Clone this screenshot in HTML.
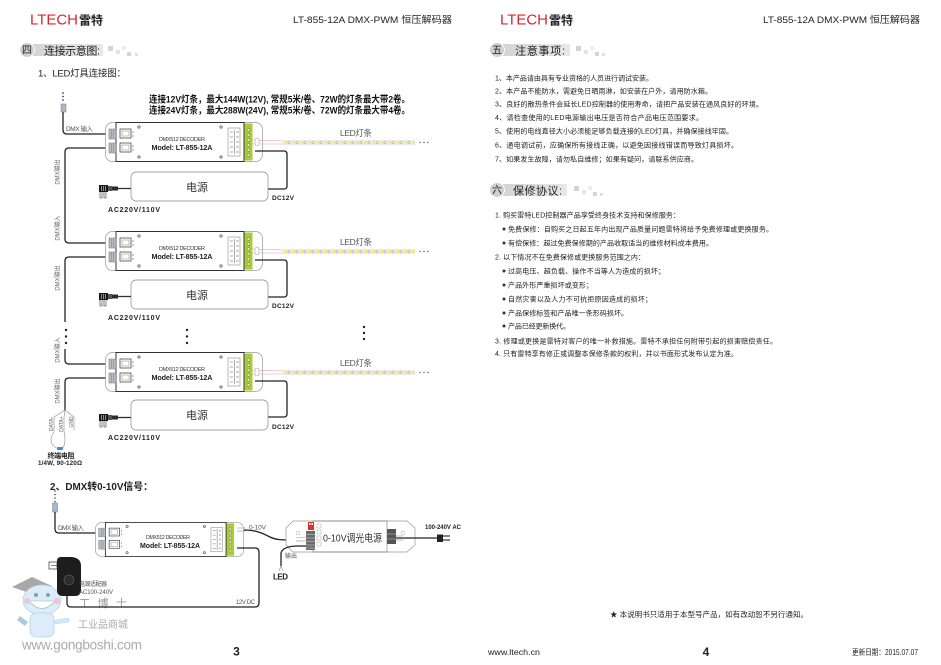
<!DOCTYPE html>
<html><head><meta charset="utf-8"><style>
html,body{margin:0;padding:0;background:#fff;}
svg{display:block;}
text{font-family:"Liberation Sans","Noto Sans CJK SC",sans-serif;}
</style></head><body>
<svg width="941" height="665" viewBox="0 0 941 665" xmlns="http://www.w3.org/2000/svg">
<defs>
<linearGradient id="bar" x1="0" x2="1" y1="0" y2="0"><stop offset="0" stop-color="#d2d2d2"/><stop offset="1" stop-color="#e8e8e8"/></linearGradient>
<pattern id="strip" x="0" y="0" width="8" height="5" patternUnits="userSpaceOnUse">
<rect x="0" y="0" width="8" height="5" fill="#eeeeee"/>
<rect x="1" y="1" width="3" height="3" fill="#f4e98a"/>
<rect x="5" y="1.3" width="2" height="2.4" fill="none" stroke="#999" stroke-width="0.4"/>
</pattern>
<g id="dec">
<rect x="0.5" y="0.5" width="157" height="39" rx="7" fill="#fff" stroke="#999" stroke-width="0.7"/>
<rect x="11" y="0.5" width="128" height="39" fill="#fff" stroke="#222" stroke-width="0.9"/>
<rect x="139.5" y="1.5" width="8" height="37" fill="#a9cb3c"/>
<g fill="#e4eec0" stroke="#4a5a20" stroke-width="0.4">
<circle cx="143.5" cy="8" r="1.5"/><circle cx="143.5" cy="13" r="1.5"/><circle cx="143.5" cy="18" r="1.5"/><circle cx="143.5" cy="23" r="1.5"/><circle cx="143.5" cy="28" r="1.5"/><circle cx="143.5" cy="33" r="1.5"/>
</g>
<rect x="4" y="7" width="7" height="10" fill="#b8bcc4" stroke="#6a6f78" stroke-width="0.5"/>
<rect x="4" y="21" width="7" height="10" fill="#b8bcc4" stroke="#6a6f78" stroke-width="0.5"/>
<g stroke="#7d828a" stroke-width="0.5"><line x1="6.5" y1="8" x2="6.5" y2="16"/><line x1="8.5" y1="8" x2="8.5" y2="16"/><line x1="6.5" y1="22" x2="6.5" y2="30"/><line x1="8.5" y1="22" x2="8.5" y2="30"/></g>
<rect x="15" y="7" width="11" height="9" fill="#fff" stroke="#333" stroke-width="0.7"/>
<rect x="17" y="9" width="7" height="5" fill="none" stroke="#666" stroke-width="0.4"/>
<rect x="15" y="21" width="11" height="9" fill="#fff" stroke="#333" stroke-width="0.7"/>
<rect x="17" y="23" width="7" height="5" fill="none" stroke="#666" stroke-width="0.4"/>
<g stroke="#444" stroke-width="0.5"><line x1="28" y1="9" x2="28" y2="11"/><line x1="28" y1="13" x2="28" y2="15"/><line x1="28" y1="23" x2="28" y2="25"/><line x1="28" y1="27" x2="28" y2="29"/></g>
<g fill="none" stroke="#333" stroke-width="0.6"><circle cx="34" cy="5" r="1.2"/><circle cx="116" cy="5" r="1.2"/><circle cx="34" cy="35" r="1.2"/><circle cx="116" cy="35" r="1.2"/></g>
<rect x="123" y="6" width="12" height="28" fill="#fff" stroke="#777" stroke-width="0.5"/>
<g stroke="#555" stroke-width="0.5"><line x1="125" y1="10" x2="128" y2="10"/><line x1="125" y1="15" x2="128" y2="15"/><line x1="125" y1="20" x2="128" y2="20"/><line x1="125" y1="25" x2="128" y2="25"/><line x1="125" y1="30" x2="128" y2="30"/><line x1="129.5" y1="8" x2="129.5" y2="32"/></g>
<g fill="none" stroke="#777" stroke-width="0.4"><circle cx="132.5" cy="10" r="0.9"/><circle cx="132.5" cy="15" r="0.9"/><circle cx="132.5" cy="20" r="0.9"/><circle cx="132.5" cy="25" r="0.9"/><circle cx="132.5" cy="30" r="0.9"/></g>
</g>
</defs>

<!-- ================= LEFT PAGE ================= -->
<text x="30" y="24.5" font-size="15" fill="#d9262d" textLength="48" lengthAdjust="spacingAndGlyphs">LTECH</text>
<text x="79" y="24.5" font-size="12" font-weight="bold" fill="#222" textLength="24">雷特</text>
<text x="293" y="23" font-size="9.5" fill="#222" textLength="159" lengthAdjust="spacingAndGlyphs">LT-855-12A DMX-PWM 恒压解码器</text>

<rect x="27" y="44" width="76" height="12" fill="url(#bar)"/>
<circle cx="27" cy="50" r="7.5" fill="#cfcfcf" stroke="#fff" stroke-width="1"/>
<text x="27" y="53.5" font-size="10" text-anchor="middle" fill="#222">四</text>
<text x="44" y="54.5" font-size="11" fill="#222" textLength="56">连接示意图:</text>
<g fill="#d4d4d4"><rect x="108" y="46" width="5" height="5"/><rect x="116" y="50" width="4" height="4" fill="#e2e2e2"/><rect x="122" y="46" width="4" height="4" fill="#ececec"/><rect x="127" y="52" width="4" height="4"/><rect x="135" y="53" width="3" height="3" fill="#e0e0e0"/></g>

<text x="38" y="76.5" font-size="9.5" fill="#222" textLength="88">1、LED灯具连接图：</text>
<text x="149" y="102.5" font-size="9.5" font-weight="bold" fill="#111" textLength="261" lengthAdjust="spacingAndGlyphs">连接12V灯条，最大144W(12V), 常规5米/卷、72W的灯条最大带2卷。</text>
<text x="149" y="113.5" font-size="9.5" font-weight="bold" fill="#111" textLength="261" lengthAdjust="spacingAndGlyphs">连接24V灯条，最大288W(24V), 常规5米/卷、72W的灯条最大带4卷。</text>

<!-- DMX input plug top -->
<g fill="#444"><circle cx="63" cy="93" r="0.9"/><circle cx="63" cy="96.5" r="0.9"/><circle cx="63" cy="100" r="0.9"/></g>
<rect x="61" y="104" width="5" height="8" fill="#a9b8c6" stroke="#6f7f8f" stroke-width="0.5"/>
<text x="66" y="131" font-size="6.5" fill="#555" textLength="27">DMX 输入</text>

<!-- DMX lines -->
<g fill="none" stroke="#222" stroke-width="1.3">
<path d="M63,112 V130 Q63,134 67,134 H110"/>
<path d="M110,148 H69 Q65,148 65,152 V239 Q65,243 69,243 H110"/>
<path d="M110,257 H69 Q65,257 65,261 V322"/>
<path d="M65,349 V360 Q65,364 69,364 H110"/>
<path d="M110,378 H69 Q65,378 65,382 V410"/>
</g>
<g font-size="6" fill="#666">
<text transform="translate(59.5,172) rotate(-90)" text-anchor="middle">DMX输出</text>
<text transform="translate(59.5,228) rotate(-90)" text-anchor="middle">DMX输入</text>
<text transform="translate(59.5,278) rotate(-90)" text-anchor="middle">DMX输出</text>
<text transform="translate(59.5,350) rotate(-90)" text-anchor="middle">DMX输入</text>
<text transform="translate(59.5,391) rotate(-90)" text-anchor="middle">DMX输出</text>
</g>
<g fill="#222">
<circle cx="66" cy="330" r="1.2"/><circle cx="66" cy="336.5" r="1.2"/><circle cx="66" cy="343" r="1.2"/>
<circle cx="187" cy="330" r="1.2"/><circle cx="187" cy="336.5" r="1.2"/><circle cx="187" cy="343" r="1.2"/>
<circle cx="364" cy="327" r="1.2"/><circle cx="364" cy="333" r="1.2"/><circle cx="364" cy="339" r="1.2"/>
</g>

<!-- ROW 1 -->
<use href="#dec" x="105" y="122"/>
<text x="182" y="141" font-size="5.5" fill="#333" text-anchor="middle" textLength="46">DMX512 DECODER</text>
<text x="182" y="150" font-size="7.2" font-weight="bold" fill="#222" text-anchor="middle" textLength="61">Model: LT-855-12A</text>
<g stroke="#e99" stroke-width="0.6"><line x1="252" y1="140" x2="283" y2="141"/><line x1="252" y1="144" x2="283" y2="144"/></g>
<rect x="255" y="138" width="4" height="8" rx="2" fill="#fff" stroke="#999" stroke-width="0.5"/>
<g transform="translate(283,140)"><rect width="132" height="5" fill="url(#strip)" stroke="#ddd" stroke-width="0.3"/></g>
<g fill="#555"><circle cx="420" cy="142.5" r="0.7"/><circle cx="424" cy="142.5" r="0.7"/><circle cx="428" cy="142.5" r="0.7"/></g>
<text x="340" y="136" font-size="8.5" fill="#555" textLength="32">LED灯条</text>
<path d="M255,151 H284 Q287,151 287,154 V186 Q287,189 284,189 H268" fill="none" stroke="#222" stroke-width="1.3"/>
<rect x="131" y="172" width="137" height="29" rx="5" fill="#fff" stroke="#888" stroke-width="0.7"/>
<text x="197" y="191" font-size="11" fill="#333" text-anchor="middle">电源</text>
<g>
<line x1="118" y1="188.5" x2="131" y2="188.5" stroke="#333" stroke-width="1.3"/>
<rect x="99" y="185" width="9" height="7" fill="#1a1a1a"/>
<g stroke="#fff" stroke-width="0.5"><line x1="101.5" y1="186" x2="101.5" y2="191"/><line x1="103.5" y1="186" x2="103.5" y2="191"/><line x1="105.5" y1="186" x2="105.5" y2="191"/></g>
<rect x="108" y="186" width="4" height="5" fill="#555"/>
<rect x="112" y="186.5" width="6" height="4" fill="#2a2a2a"/>
<path d="M100,192 v6 h2 v-6 M104,192 v6 h2 v-6" fill="none" stroke="#333" stroke-width="0.6"/>
</g>
<text x="108" y="212" font-size="7" font-weight="bold" fill="#222" textLength="52">AC220V/110V</text>
<text x="272" y="200" font-size="6.5" font-weight="bold" fill="#222" textLength="22">DC12V</text>

<!-- ROW 2 -->
<use href="#dec" x="105" y="231"/>
<text x="182" y="250" font-size="5.5" fill="#333" text-anchor="middle" textLength="46">DMX512 DECODER</text>
<text x="182" y="259" font-size="7.2" font-weight="bold" fill="#222" text-anchor="middle" textLength="61">Model: LT-855-12A</text>
<g stroke="#e99" stroke-width="0.6"><line x1="252" y1="249" x2="283" y2="250"/><line x1="252" y1="253" x2="283" y2="253"/></g>
<rect x="255" y="247" width="4" height="8" rx="2" fill="#fff" stroke="#999" stroke-width="0.5"/>
<g transform="translate(283,249)"><rect width="132" height="5" fill="url(#strip)" stroke="#ddd" stroke-width="0.3"/></g>
<g fill="#555"><circle cx="420" cy="251.5" r="0.7"/><circle cx="424" cy="251.5" r="0.7"/><circle cx="428" cy="251.5" r="0.7"/></g>
<text x="340" y="245" font-size="8.5" fill="#555" textLength="32">LED灯条</text>
<path d="M255,260 H284 Q287,260 287,263 V294 Q287,297 284,297 H268" fill="none" stroke="#222" stroke-width="1.3"/>
<rect x="131" y="280" width="137" height="29" rx="5" fill="#fff" stroke="#888" stroke-width="0.7"/>
<text x="197" y="299" font-size="11" fill="#333" text-anchor="middle">电源</text>
<g>
<line x1="118" y1="296.5" x2="131" y2="296.5" stroke="#333" stroke-width="1.3"/>
<rect x="99" y="293" width="9" height="7" fill="#1a1a1a"/>
<g stroke="#fff" stroke-width="0.5"><line x1="101.5" y1="294" x2="101.5" y2="299"/><line x1="103.5" y1="294" x2="103.5" y2="299"/><line x1="105.5" y1="294" x2="105.5" y2="299"/></g>
<rect x="108" y="294" width="4" height="5" fill="#555"/>
<rect x="112" y="294.5" width="6" height="4" fill="#2a2a2a"/>
<path d="M100,300 v6 h2 v-6 M104,300 v6 h2 v-6" fill="none" stroke="#333" stroke-width="0.6"/>
</g>
<text x="108" y="320" font-size="7" font-weight="bold" fill="#222" textLength="52">AC220V/110V</text>
<text x="272" y="308" font-size="6.5" font-weight="bold" fill="#222" textLength="22">DC12V</text>

<!-- ROW 3 -->
<use href="#dec" x="105" y="352"/>
<text x="182" y="371" font-size="5.5" fill="#333" text-anchor="middle" textLength="46">DMX512 DECODER</text>
<text x="182" y="380" font-size="7.2" font-weight="bold" fill="#222" text-anchor="middle" textLength="61">Model: LT-855-12A</text>
<g stroke="#e99" stroke-width="0.6"><line x1="252" y1="370" x2="283" y2="371"/><line x1="252" y1="374" x2="283" y2="374"/></g>
<rect x="255" y="368" width="4" height="8" rx="2" fill="#fff" stroke="#999" stroke-width="0.5"/>
<g transform="translate(283,370)"><rect width="132" height="5" fill="url(#strip)" stroke="#ddd" stroke-width="0.3"/></g>
<g fill="#555"><circle cx="420" cy="372.5" r="0.7"/><circle cx="424" cy="372.5" r="0.7"/><circle cx="428" cy="372.5" r="0.7"/></g>
<text x="340" y="366" font-size="8.5" fill="#555" textLength="32">LED灯条</text>
<path d="M255,381 H284 Q287,381 287,384 V414 Q287,417 284,417 H268" fill="none" stroke="#222" stroke-width="1.3"/>
<rect x="131" y="400" width="137" height="30" rx="5" fill="#fff" stroke="#888" stroke-width="0.7"/>
<text x="197" y="419" font-size="11" fill="#333" text-anchor="middle">电源</text>
<g>
<line x1="118" y1="417.5" x2="131" y2="417.5" stroke="#333" stroke-width="1.3"/>
<rect x="99" y="414" width="9" height="7" fill="#1a1a1a"/>
<g stroke="#fff" stroke-width="0.5"><line x1="101.5" y1="415" x2="101.5" y2="420"/><line x1="103.5" y1="415" x2="103.5" y2="420"/><line x1="105.5" y1="415" x2="105.5" y2="420"/></g>
<rect x="108" y="415" width="4" height="5" fill="#555"/>
<rect x="112" y="415.5" width="6" height="4" fill="#2a2a2a"/>
<path d="M100,421 v6 h2 v-6 M104,421 v6 h2 v-6" fill="none" stroke="#333" stroke-width="0.6"/>
</g>
<text x="108" y="440" font-size="7" font-weight="bold" fill="#222" textLength="52">AC220V/110V</text>
<text x="272" y="429" font-size="6.5" font-weight="bold" fill="#222" textLength="22">DC12V</text>

<!-- terminal resistor -->
<g fill="none" stroke="#888" stroke-width="0.6">
<path d="M65,410 L54,417 V432 C48,440 52,447 58,448.5"/>
<path d="M65,410 L64,417 V432 C66,440 65,446 62,448.5"/>
<path d="M65,410 L74,417 V430"/>
</g>
<g font-size="5" fill="#666">
<text transform="translate(53,424) rotate(-90)" text-anchor="middle">DATA-</text>
<text transform="translate(63,424) rotate(-90)" text-anchor="middle">DATA+</text>
<text transform="translate(73,422) rotate(-90)" text-anchor="middle">GND</text>
</g>
<rect x="57" y="447" width="6" height="3" rx="1" fill="#3a8fd8"/>
<text x="61" y="458" font-size="7" font-weight="bold" fill="#222" text-anchor="middle" textLength="27">终端电阻</text>
<text x="38" y="465" font-size="6.3" font-weight="bold" fill="#222" textLength="44">1/4W, 90-120Ω</text>

<!-- SECTION 2 -->
<text x="50" y="490" font-size="10" font-weight="bold" fill="#222" textLength="103" lengthAdjust="spacingAndGlyphs">2、DMX转0-10V信号：</text>
<g fill="#444"><circle cx="55" cy="491" r="0.8"/><circle cx="55" cy="494.5" r="0.8"/><circle cx="55" cy="498" r="0.8"/><circle cx="55" cy="501.5" r="0.8"/></g>
<rect x="52.5" y="503" width="5" height="9" fill="#a9b8c6" stroke="#6f7f8f" stroke-width="0.5"/>
<path d="M55,512 V529 Q55,533 59,533 H99" fill="none" stroke="#222" stroke-width="1.3"/>
<text x="58" y="530" font-size="6.5" fill="#555" textLength="26">DMX 输入</text>
<use href="#dec" transform="translate(95,522) scale(0.943,0.875)"/>
<text x="168" y="539" font-size="5.3" fill="#333" text-anchor="middle" textLength="44">DMX512 DECODER</text>
<text x="170" y="548" font-size="7" font-weight="bold" fill="#222" text-anchor="middle" textLength="60">Model: LT-855-12A</text>
<text x="249" y="529.5" font-size="6.5" fill="#555" textLength="17">0-10V</text>
<g stroke-width="0.6" fill="none"><path d="M237,528 H246" stroke="#6ac"/><path d="M237,531 H246" stroke="#e66"/></g>
<path d="M244,530 C256,530 262,533 270,537 C276,540 282,540 296,540" fill="none" stroke="#222" stroke-width="1.3"/>

<!-- dimming driver -->
<path d="M293,521 H407 L415,528 V545 L407,552 H293 L286,545 V528 Z" fill="#fff" stroke="#999" stroke-width="0.7"/>
<rect x="313" y="521" width="74" height="31" fill="none" stroke="#777" stroke-width="0.6"/>
<circle cx="298" cy="533" r="2" fill="none" stroke="#aaa" stroke-width="0.5"/>
<circle cx="403" cy="533" r="2" fill="none" stroke="#aaa" stroke-width="0.5"/>
<rect x="308" y="522" width="6" height="8" fill="#d8352a"/>
<g fill="#fff"><rect x="309" y="523" width="1.5" height="2"/><rect x="311.5" y="523" width="1.5" height="2"/></g>
<rect x="306" y="531" width="9" height="19" fill="#6a6a6a"/>
<g stroke="#ddd" stroke-width="0.5"><line x1="306" y1="534.5" x2="315" y2="534.5"/><line x1="306" y1="538" x2="315" y2="538"/><line x1="306" y1="541.5" x2="315" y2="541.5"/><line x1="306" y1="545" x2="315" y2="545"/><line x1="306" y1="548" x2="315" y2="548"/></g>
<g fill="none" stroke="#999" stroke-width="0.4"><rect x="317" y="524" width="4" height="4"/><rect x="317" y="530" width="4" height="4"/><rect x="317" y="536" width="4" height="4"/><rect x="317" y="542" width="4" height="4"/></g>
<text x="323" y="541.5" font-size="10.5" fill="#333" textLength="59" lengthAdjust="spacingAndGlyphs">0-10V调光电源</text>
<rect x="387" y="529" width="9" height="15" fill="#555"/>
<g stroke="#ccc" stroke-width="0.5"><line x1="387" y1="534" x2="396" y2="534"/><line x1="387" y1="539" x2="396" y2="539"/></g>
<g stroke-width="0.6"><line x1="296" y1="538" x2="306" y2="537" stroke="#6ac"/><line x1="296" y1="541" x2="306" y2="541" stroke="#e66"/></g>
<path d="M396,538 H437" fill="none" stroke="#222" stroke-width="1.2"/>
<g stroke-width="0.6"><line x1="396" y1="536" x2="403" y2="536" stroke="#6ac"/><line x1="396" y1="540" x2="403" y2="540" stroke="#e66"/></g>
<path d="M437,534.5 h6 v7.5 h-6 z" fill="#222"/>
<g stroke="#222" stroke-width="1.1"><line x1="443" y1="536" x2="450" y2="536"/><line x1="443" y1="540" x2="450" y2="540"/></g>
<text x="425" y="529" font-size="6" font-weight="bold" fill="#222" textLength="36">100-240V AC</text>
<path d="M306,546 H298 Q283,546 281,553 V566" fill="none" stroke="#222" stroke-width="1.3"/>
<g stroke-width="0.6"><line x1="281" y1="566" x2="279" y2="571" stroke="#e66"/><line x1="281" y1="566" x2="283" y2="571" stroke="#6ac"/></g>
<text x="285" y="558" font-size="6" fill="#555">输出</text>
<text x="273" y="579.5" font-size="8" font-weight="bold" fill="#222" textLength="15">LED</text>

<!-- watermark mascot -->
<g opacity="0.85">
<path d="M12,587 L32,577 L52,586 L32,594 Z" fill="#9a9a9a"/>
<ellipse cx="42" cy="600" rx="19" ry="15" fill="#d6ebf8" stroke="#a8cde6" stroke-width="0.8"/>
<path d="M29,601 Q42,616 55,601 Z" fill="#fff" stroke="#8aa" stroke-width="0.6"/>
<circle cx="36" cy="595" r="2" fill="#6d8fa8"/><circle cx="48" cy="595" r="2" fill="#6d8fa8"/>
<circle cx="27" cy="601" r="3" fill="#f4b6c8"/><circle cx="57" cy="601" r="3" fill="#f4b6c8"/>
<rect x="30" y="613" width="24" height="24" rx="6" fill="#d6ebf8" stroke="#a8cde6" stroke-width="0.8"/>
<path d="M20,616 l8,6 l-3,4 l-8,-6 z" fill="#9cc1dc"/>
<path d="M55,620 l14,-2 l0,4 l-14,2 z" fill="#cfe5f5" stroke="#a8cde6" stroke-width="0.5"/>
</g>
<text x="79" y="607" font-size="11" fill="#9a9a9a" font-family="Liberation Serif, 'Noto Serif CJK SC', serif" textLength="48">工 博 士</text>
<text x="78" y="628" font-size="10" fill="#aaa" textLength="50">工业品商城</text>
<text x="22" y="649.5" font-size="13.5" fill="#aaa" textLength="120">www.gongboshi.com</text>

<!-- power adapter -->
<path d="M61,557 Q57,557 57,561 V590 Q57,596 63,596 H75 Q81,596 81,590 V566 Q81,558 72,557 Z" fill="#1d1d1d"/>
<circle cx="69" cy="580" r="5" fill="#2c2c2c" stroke="#666" stroke-width="0.6"/>
<rect x="49" y="562" width="8" height="7" fill="none" stroke="#333" stroke-width="0.7"/>
<line x1="51" y1="565.5" x2="57" y2="565.5" stroke="#333" stroke-width="0.6"/>
<text x="79" y="586" font-size="6" fill="#555" textLength="28">电源适配器</text>
<text x="79" y="594" font-size="6" fill="#555" textLength="34">AC100-240V</text>
<path d="M67,596 V603 Q67,607 71,607 H255 Q259,607 259,603 V552 Q259,548 255,548 H237" fill="none" stroke="#222" stroke-width="1.3"/>
<text x="236" y="604" font-size="6" fill="#555" textLength="19">12V DC</text>

<text x="236.5" y="655.5" font-size="12" font-weight="bold" fill="#222" text-anchor="middle">3</text>

<!-- ================= RIGHT PAGE ================= -->
<text x="500" y="24.5" font-size="15" fill="#d9262d" textLength="48" lengthAdjust="spacingAndGlyphs">LTECH</text>
<text x="549" y="24.5" font-size="12" font-weight="bold" fill="#222" textLength="24">雷特</text>
<text x="763" y="23" font-size="9.5" fill="#222" textLength="157" lengthAdjust="spacingAndGlyphs">LT-855-12A DMX-PWM 恒压解码器</text>

<rect x="497" y="44" width="73" height="12" fill="url(#bar)"/>
<circle cx="497" cy="50" r="7.5" fill="#cfcfcf" stroke="#fff" stroke-width="1"/>
<text x="497" y="53.5" font-size="10" text-anchor="middle" fill="#222">五</text>
<text x="515" y="54.5" font-size="11" fill="#222" textLength="50">注意事项:</text>
<g fill="#d4d4d4"><rect x="576" y="46" width="5" height="5"/><rect x="584" y="50" width="4" height="4" fill="#e2e2e2"/><rect x="590" y="46" width="4" height="4" fill="#ececec"/><rect x="595" y="52" width="4" height="4"/><rect x="602" y="53" width="3" height="3" fill="#e0e0e0"/></g>

<g font-size="7" fill="#222">
<text x="495" y="80.5" textLength="158">1、本产品请由具有专业资格的人员进行调试安装。</text>
<text x="495" y="93.5" textLength="217">2、本产品不能防水，需避免日晒雨淋，如安装在户外，请用防水箱。</text>
<text x="495" y="106.5" textLength="268">3、良好的散热条件会延长LED控制器的使用寿命，请把产品安装在通风良好的环境。</text>
<text x="495" y="120" textLength="208">4、请检查使用的LED电源输出电压是否符合产品电压范围要求。</text>
<text x="495" y="133.5" textLength="238">5、使用的电线直径大小必须能足够负载连接的LED灯具，并确保接线牢固。</text>
<text x="495" y="147.5" textLength="243">6、通电调试前，应确保所有接线正确，以避免因接线错误而导致灯具损坏。</text>
<text x="495" y="161.5" textLength="203">7、如果发生故障，请勿私自维修；如果有疑问，请联系供应商。</text>
</g>

<rect x="497" y="184" width="70" height="12" fill="url(#bar)"/>
<circle cx="497" cy="190" r="7.5" fill="#cfcfcf" stroke="#fff" stroke-width="1"/>
<text x="497" y="193.5" font-size="10" text-anchor="middle" fill="#222">六</text>
<text x="513" y="194.5" font-size="11" fill="#222" textLength="49">保修协议:</text>
<g fill="#d4d4d4"><rect x="574" y="186" width="5" height="5"/><rect x="582" y="190" width="4" height="4" fill="#e2e2e2"/><rect x="588" y="186" width="4" height="4" fill="#ececec"/><rect x="593" y="192" width="4" height="4"/><rect x="600" y="193" width="3" height="3" fill="#e0e0e0"/></g>

<g font-size="7" fill="#222">
<text x="495" y="217.5" textLength="185">1. 购买雷特LED控制器产品享受终身技术支持和保修服务：</text>
<text x="508" y="231.5" textLength="265">免费保修：自购买之日起五年内出现产品质量问题雷特将给予免费修理或更换服务。</text>
<text x="508" y="245.5" textLength="205">有偿保修：超过免费保修期的产品收取适当的维修材料成本费用。</text>
<text x="495" y="259.5" textLength="150">2. 以下情况不在免费保修或更换服务范围之内：</text>
<text x="508" y="273.5" textLength="157">过高电压、超负载、操作不当等人为造成的损坏；</text>
<text x="508" y="287.5" textLength="85">产品外形严重损坏或变形；</text>
<text x="508" y="301.5" textLength="144">自然灾害以及人力不可抗拒原因造成的损坏；</text>
<text x="508" y="315.5" textLength="120">产品保修标签和产品唯一条形码损坏。</text>
<text x="508" y="328.5" textLength="62">产品已经更新换代。</text>
<text x="495" y="343.5" textLength="282">3. 修理或更换是雷特对客户的唯一补救措施。雷特不承担任何附带引起的损害赔偿责任。</text>
<text x="495" y="356" textLength="243">4. 只有雷特享有修正或调整本保修条款的权利，并以书面形式发布认定为准。</text>
</g>
<g fill="#333">
<circle cx="504" cy="229" r="1.5"/><circle cx="504" cy="243" r="1.5"/><circle cx="504" cy="271" r="1.5"/><circle cx="504" cy="285" r="1.5"/><circle cx="504" cy="299" r="1.5"/><circle cx="504" cy="313" r="1.5"/><circle cx="504" cy="326" r="1.5"/>
</g>

<text x="610" y="617" font-size="7.5" fill="#222" textLength="198">★ 本说明书只适用于本型号产品，如有改动恕不另行通知。</text>
<text x="488" y="655" font-size="8.5" fill="#222" textLength="52" lengthAdjust="spacingAndGlyphs">www.ltech.cn</text>
<text x="706" y="656" font-size="12" font-weight="bold" fill="#222" text-anchor="middle">4</text>
<text x="852" y="655" font-size="8" fill="#222" textLength="66" lengthAdjust="spacingAndGlyphs">更新日期：2015.07.07</text>
</svg>
</body></html>
